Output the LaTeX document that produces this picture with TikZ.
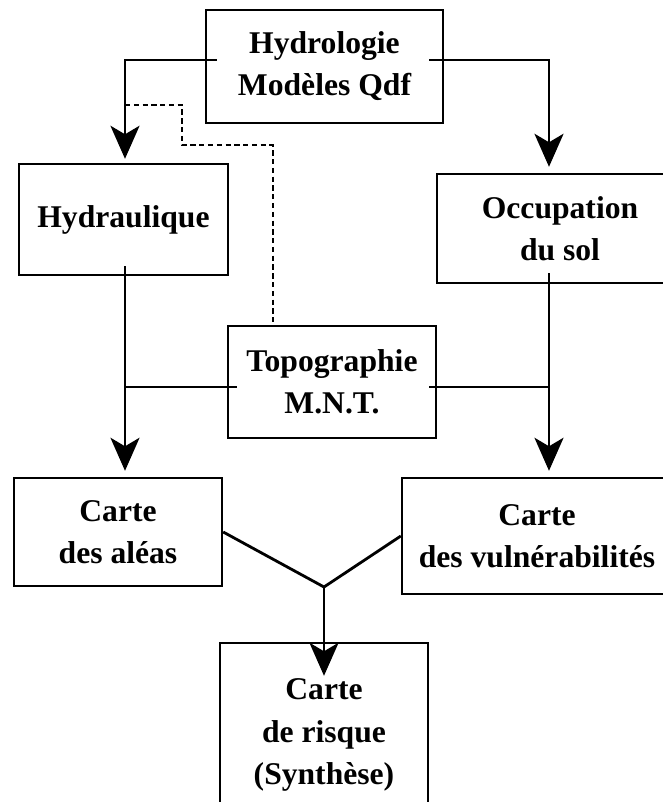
\documentclass[tikz,border=0pt]{standalone}
\usepackage{fontspec}
\setmainfont{Liberation Serif}
\usetikzlibrary{arrows.meta}

\begin{document}
\begin{tikzpicture}[x=0.02cm, y=-0.02cm,
  every node/.style={align=center, font=\bfseries\fontsize{18}{24}\selectfont},
  box/.style={draw, line width=1.4pt, inner sep=0pt},
  flow/.style={line width=1.6pt, -{Stealth[length=0.66cm, width=0.58cm, inset=0.17cm]}},
  link/.style={line width=1.6pt}]
\clip (0,0) rectangle (663,802);

\node (hydro) [box, minimum width=4.74cm, minimum height=2.26cm] at (324.5,66.5) {Hydrologie\\Modèles Qdf};
\node (hydrau) [box, minimum width=4.18cm, minimum height=2.22cm] at (123.5,219.5) {Hydraulique};
\node (occup) [box, minimum width=4.92cm, minimum height=2.18cm] at (560,228.5) {Occupation\\du sol};
\node (topo) [box, minimum width=4.16cm, minimum height=2.24cm] at (332,382) {Topographie\\M.N.T.};
\node (aleas) [box, minimum width=4.16cm, minimum height=2.16cm] at (118,532) {Carte\\des aléas};
\node (vuln) [box, minimum width=5.4cm, minimum height=2.32cm] at (537,536) {Carte\\des vulnérabilités};
\node (risque) [box, minimum width=4.16cm, minimum height=3.68cm] at (324,735) {Carte\\de risque\\(Synthèse)};
\coordinate (fork) at (324,587);
\coordinate (dstart) at (125,105);

\draw[flow, shorten >=0.08cm] ([xshift=0.24cm, yshift=0.13cm]hydro.west) -| ([xshift=0.03cm]hydrau.north);
\draw[flow, shorten >=0.12cm] ([xshift=-0.3cm, yshift=0.13cm]hydro.east) -| ([xshift=-0.22cm]occup.north);
\draw[dashed, line width=0.6pt, dash pattern=on 3pt off 2pt] (dstart) -- (182,105) -- (182,145) -| ([xshift=-1.18cm]topo.north);

\draw[flow, shorten >=0.12cm] ([xshift=0.03cm, yshift=0.2cm]hydrau.south) -- ([xshift=0.03cm]hydrau.south |- aleas.north);
\draw[flow, shorten >=0.12cm] ([xshift=-0.22cm, yshift=0.22cm]occup.south) -- ([xshift=-0.22cm]occup.south |- vuln.north);
\draw[link] ([xshift=0.2cm, yshift=-0.1cm]topo.west) -- ([yshift=-0.1cm]topo.west -| hydrau.south);
\draw[link] ([xshift=-0.16cm, yshift=-0.1cm]topo.east) -- ([xshift=-0.22cm, yshift=-0.1cm]topo.east -| occup.south);

\draw[link] (aleas.east) -- (fork);
\draw[link] (vuln.west) -- (fork);
\draw[flow] (fork) -- ([yshift=-0.68cm]risque.north);
\end{tikzpicture}
\end{document}
